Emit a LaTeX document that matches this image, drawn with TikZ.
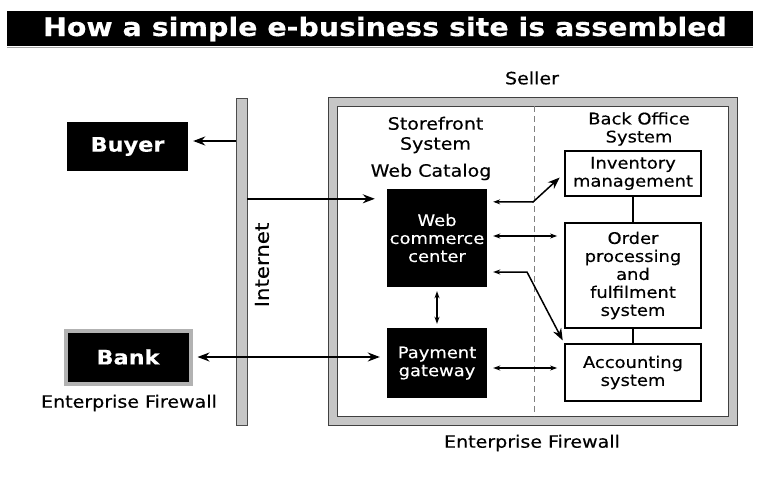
\documentclass[tikz,border=0pt]{standalone}
\usepackage{fontspec}
\setmainfont[FakeStretch=1.12, FakeBold=0.35]{DejaVu Sans}
\usetikzlibrary{arrows.meta}

\begin{document}
\begin{tikzpicture}[x=1pt,y=-1pt,
  lbl/.style={font=\fontsize{17}{20}\selectfont, align=center, inner sep=0pt},
  darkbox/.style={fill=black, text=white, align=center, inner sep=0pt,
    font=\fontsize{16}{18}\selectfont},
  sysbox/.style={draw=black, line width=1.8pt, fill=white, align=center, inner sep=0pt,
    font=\fontsize{16}{18}\selectfont},
  partybox/.style={fill=black, text=white, inner sep=0pt,
    font=\fontsize{20}{22}\selectfont\bfseries},
  bigtip/.tip={Stealth[length=12pt,width=9pt]},
  smalltip/.tip={Stealth[length=7pt,width=5pt]},
  link/.style={line width=1.5pt},
]
% canvas
\fill[white] (0,0) rectangle (757,487);
\useasboundingbox (0,0) rectangle (757,487);

% title bar
\fill[black] (7,11) rectangle (753,46);
\draw[gray!70, line width=1pt] (7,47.5) -- (753,47.5);
\node[text=white, inner sep=0pt, font=\fontsize{25.4}{28}\selectfont\bfseries]
  (title) at (385,29) {How a simple e-business site is assembled};

% seller enclosure (firewall frame)
\fill[gray!45, even odd rule] (328,97) rectangle (737,425) (337,106) rectangle (728,416);
\draw[black!75, line width=0.8pt] (328,97) rectangle (737,425);
\draw[black!75, line width=0.8pt] (337,106) rectangle (728,416);
\draw[gray, line width=0.7pt, dash pattern=on 6pt off 4pt] (534,106) -- (534,416);

% internet backbone
\node[fill=gray!45, draw=black!70, line width=0.6pt, minimum width=11pt,
  minimum height=327pt, inner sep=0pt] (inet) at (241.5,261.5) {};
\node[lbl, rotate=90, font=\fontsize{19}{22}\selectfont] (inetlbl) at (262,265) {Internet};

% outside parties
\node[partybox, minimum width=121pt, minimum height=49pt] (buyer) at (127.5,146.5) {Buyer};
\node[partybox, draw=gray!60, line width=4pt, minimum width=125pt, minimum height=53pt]
  (bank) at (128,357) {Bank};
\node[lbl] (bankfw) at (129,403) {Enterprise Firewall};

% seller labels
\node[lbl] (seller) at (532,78) {Seller};
\node[lbl] (sellerfw) at (532,443) {Enterprise Firewall};
\node[lbl] (store) at (435.5,135) {Storefront\\System};
\node[lbl] (catalog) at (431,172) {Web Catalog};
\node[lbl, font=\fontsize{16}{18}\selectfont] (back) at (639,129) {Back Office\\System};

% storefront components
\node[darkbox, minimum width=100pt, minimum height=98pt] (web) at (437,238)
  {Web\\commerce\\center};
\node[darkbox, minimum width=100pt, minimum height=70pt] (pay) at (437,363)
  {Payment\\gateway};

% back office components
\node[sysbox, minimum width=136pt, minimum height=45pt] (inv) at (633,173.5)
  {Inventory\\management};
\node[sysbox, minimum width=136pt, minimum height=105pt] (ord) at (633,275.5)
  {Order\\processing\\and\\fulfilment\\system};
\node[sysbox, minimum width=136pt, minimum height=57pt] (acc) at (633,372.5)
  {Accounting\\system};

\draw[line width=2.5pt] (inv.south) -- (ord.north);
\draw[line width=2.5pt] (ord.south) -- (acc.north);

% internet connections
\draw[link, -{bigtip}, shorten >=5pt] ([yshift=5.5pt]buyer.east -| inet.west) -- ([yshift=5.5pt]buyer.east);
\draw[link, -{bigtip}, shorten >=12pt] ([yshift=-10pt]web.north west -| inet.east) -- ([yshift=-10pt]web.north west);
\draw[link, {bigtip}-{bigtip}, shorten <=5pt, shorten >=7pt] (bank.east) -- (bank.east -| pay.west);

% storefront to back office
\coordinate (k1) at (533,202);
\coordinate (k2) at (527,272);
\draw[link, {smalltip}-{bigtip}, shorten <=6pt, shorten >=6pt]
  ([yshift=-13pt]web.north east) -- (k1) -- (inv.west);
\draw[link, {smalltip}-{smalltip}, shorten <=6pt, shorten >=7pt]
  ([yshift=2pt]web.east) -- ([yshift=2pt]web.east -| ord.west);
\draw[link, {smalltip}-{bigtip}, shorten <=6pt, shorten >=3pt]
  ([yshift=-34pt]web.east) -- (k2) -- (acc.north west);
\draw[link, {smalltip}-{smalltip}, shorten <=6pt, shorten >=7pt]
  ([yshift=-5pt]pay.east) -- ([yshift=-5pt]pay.east -| acc.west);
\draw[link, {smalltip}-{smalltip}, shorten <=4pt, shorten >=4pt] (web.south) -- (pay.north);
\end{tikzpicture}
\end{document}
